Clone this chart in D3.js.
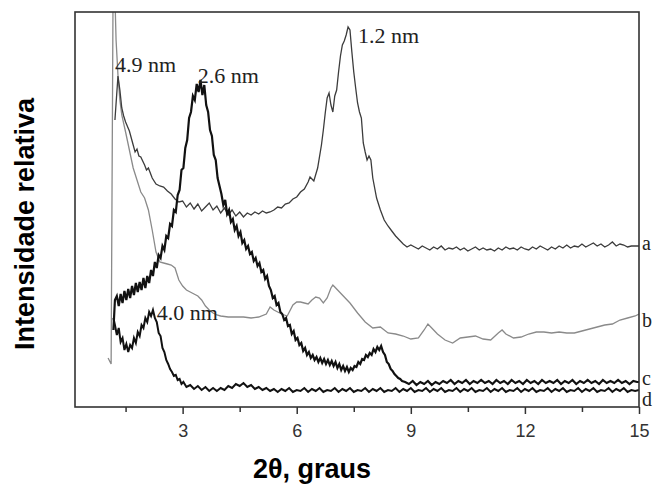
<!DOCTYPE html>
<html lang="en">
  <head>
    <meta charset="UTF-8" />
    <title>XRD patterns</title>
    <style>
      body { margin: 0; background: #fff; }
      svg { display: block; }
    </style>
  </head>
  <body>
    <div id="chart"></div>

    <script src="https://cdn.jsdelivr.net/npm/d3@7/dist/d3.min.js"></script>
    <script>
    // 2theta (graus) vs relative intensity
    var seriesA = [[1.22,287],[1.3,331],[1.35,317],[1.4,299],[1.45,291],[1.5,285],[1.6,276],[1.7,262],[1.75,255],[1.8,258],[1.85,251],[1.9,250],
      [2.0,242],[2.05,237],[2.1,239],[2.2,229],[2.3,223],[2.4,221],[2.5,220],[2.6,216],[2.7,213],[2.8,208],[2.9,205],[3.0,206],[3.1,200],[3.2,204],
      [3.3,198],[3.4,203],[3.5,196],[3.6,200],[3.7,204],[3.8,197],[3.9,201],[4.0,194],[4.1,199],[4.2,192],[4.3,197],[4.4,191],[4.5,195],[4.6,190],
      [4.7,194],[4.8,192],[4.9,195],[5.0,193],[5.1,196],[5.2,194],[5.3,195],[5.4,197],[5.5,200],[5.6,199],[5.7,203],[5.8,204],[5.9,208],[6.0,210],
      [6.1,215],[6.2,218],[6.3,225],[6.35,230],[6.45,226],[6.55,239],[6.65,262],[6.7,277],[6.75,294],[6.8,309],[6.85,314],[6.9,302],[6.95,295],
      [7.0,311],[7.05,317],[7.1,335],[7.15,351],[7.2,362],[7.25,366],[7.3,372],[7.35,380],[7.4,377],[7.45,355],[7.5,335],[7.55,319],[7.6,304],
      [7.65,295],[7.7,289],[7.75,264],[7.8,255],[7.85,247],[7.9,251],[7.95,247],[8.0,229],[8.1,209],[8.2,197],[8.3,187],[8.4,181],[8.5,176],
      [8.6,171],[8.7,167],[8.8,163],[8.9,160],[9.0,162],[9.1,160],[9.2,158],[9.3,161],[9.4,159],[9.5,157],[9.6,160],[9.7,158],[9.8,161],[9.9,157],
      [10.0,159],[10.1,158],[10.2,160],[10.3,157],[10.4,159],[10.5,156],[10.6,158],[10.7,160],[10.8,157],[10.9,159],[11.0,157],[11.1,158],
      [11.2,156],[11.3,159],[11.4,157],[11.5,160],[11.6,158],[11.7,159],[11.8,157],[11.9,160],[12.0,158],[12.1,157],[12.2,160],[12.3,158],
      [12.4,161],[12.5,159],[12.6,157],[12.7,160],[12.8,158],[12.9,161],[13.0,159],[13.1,162],[13.2,159],[13.3,161],[13.4,160],[13.5,163],
      [13.6,160],[13.7,162],[13.8,164],[13.9,161],[14.0,163],[14.1,160],[14.2,162],[14.3,165],[14.4,161],[14.5,163],[14.6,162],[14.7,160],
      [14.8,161],[14.9,161],[15.0,161]];

    var seriesB = [[1.04,49],[1.12,43],[1.17,410],[1.22,410],[1.25,367],[1.3,332],[1.35,307],[1.4,292],[1.5,275],[1.6,257],[1.7,239],[1.8,227],
      [1.9,215],[2.0,209],[2.1,197],[2.2,177],[2.3,155],[2.4,145],[2.5,144],[2.6,143],[2.7,142],[2.8,139],[2.9,127],[3.0,121],[3.1,117],[3.2,115],
      [3.3,113],[3.4,111],[3.5,107],[3.6,101],[3.7,97],[3.8,94],[3.9,92],[4.0,91],[4.2,90],[4.4,90],[4.6,90],[4.8,89],[5.0,90],[5.2,93],[5.3,100],
      [5.4,97],[5.6,93],[5.75,91],[5.9,102],[6.0,105],[6.1,105],[6.2,104],[6.3,103],[6.4,107],[6.5,110],[6.6,109],[6.7,104],[6.8,109],[6.9,119],
      [6.95,122],[7.0,120],[7.1,116],[7.2,112],[7.4,104],[7.6,94],[7.8,85],[8.0,79],[8.2,80],[8.4,74],[8.6,73],[8.8,71],[9.0,68],[9.2,69],
      [9.35,77],[9.45,83],[9.55,79],[9.7,73],[9.9,67],[10.1,64],[10.3,69],[10.5,70],[10.7,71],[10.9,68],[11.1,67],[11.3,74],[11.4,77],[11.5,73],
      [11.7,69],[11.9,70],[12.1,73],[12.3,75],[12.5,75],[12.7,74],[12.9,75],[13.1,74],[13.3,74],[13.5,76],[13.7,78],[13.9,80],[14.1,82],[14.3,83],
      [14.5,87],[14.7,89],[14.9,91],[15.0,93]];

    var seriesC = [[1.18,77],[1.22,107],[1.27,111],[1.32,101],[1.37,113],[1.42,104],[1.47,116],[1.52,107],[1.57,118],[1.62,109],[1.67,121],
      [1.72,112],[1.77,124],[1.82,115],[1.87,125],[1.92,117],[1.97,129],[2.02,119],[2.07,131],[2.12,124],[2.17,137],[2.22,131],[2.27,145],
      [2.32,139],[2.37,152],[2.42,149],[2.47,161],[2.52,157],[2.57,171],[2.62,169],[2.67,183],[2.72,181],[2.77,197],[2.82,195],[2.87,212],
      [2.92,217],[2.97,237],[3.02,239],[3.07,259],[3.12,267],[3.17,289],[3.22,295],[3.27,311],[3.32,307],[3.37,323],[3.42,315],[3.47,327],
      [3.52,312],[3.57,322],[3.62,302],[3.67,295],[3.72,277],[3.77,271],[3.82,252],[3.87,247],[3.92,229],[3.97,221],[4.02,213],[4.07,202],
      [4.12,207],[4.17,193],[4.22,197],[4.27,185],[4.32,188],[4.37,177],[4.42,181],[4.47,171],[4.52,175],[4.57,164],[4.62,167],[4.67,158],
      [4.72,161],[4.77,153],[4.82,155],[4.87,146],[4.92,149],[4.97,141],[5.02,144],[5.07,135],[5.12,137],[5.17,128],[5.22,131],[5.27,121],
      [5.32,117],[5.37,109],[5.42,111],[5.47,102],[5.52,104],[5.57,95],[5.62,93],[5.67,87],[5.72,89],[5.77,81],[5.82,82],[5.87,73],[5.92,76],
      [5.97,67],[6.02,69],[6.07,62],[6.12,64],[6.17,56],[6.22,59],[6.27,52],[6.32,55],[6.37,49],[6.42,52],[6.47,47],[6.52,50],[6.57,45],
      [6.62,49],[6.67,44],[6.72,48],[6.77,43],[6.82,47],[6.87,42],[6.92,46],[6.97,41],[7.02,45],[7.07,39],[7.12,43],[7.17,37],[7.22,41],
      [7.27,36],[7.32,40],[7.37,35],[7.42,39],[7.47,37],[7.52,41],[7.57,40],[7.62,45],[7.67,43],[7.72,48],[7.77,47],[7.82,52],[7.87,50],
      [7.92,54],[7.97,52],[8.02,58],[8.07,55],[8.12,60],[8.17,57],[8.22,61],[8.27,55],[8.32,52],[8.37,45],[8.42,43],[8.47,38],[8.52,36],
      [8.57,33],[8.62,31],[8.67,29],[8.72,28],[8.77,26],[8.85,25],[8.95,23],[9.05,26],[9.15,22],[9.25,25],[9.35,23],[9.45,26],[9.55,22],
      [9.65,25],[9.75,23],[9.85,26],[9.95,24],[10.05,27],[10.15,23],[10.25,26],[10.35,24],[10.45,27],[10.55,23],[10.65,26],[10.75,24],
      [10.85,27],[10.95,24],[11.05,26],[11.15,23],[11.25,27],[11.35,24],[11.45,26],[11.55,23],[11.65,27],[11.75,24],[11.85,26],[11.95,23],
      [12.05,27],[12.15,24],[12.25,26],[12.35,23],[12.45,27],[12.55,24],[12.65,26],[12.75,24],[12.85,27],[12.95,23],[13.05,26],[13.15,24],
      [13.25,27],[13.35,23],[13.45,26],[13.55,24],[13.65,27],[13.75,24],[13.85,26],[13.95,23],[14.05,27],[14.15,24],[14.25,26],[14.35,24],
      [14.45,27],[14.55,24],[14.65,26],[14.75,23],[14.85,26],[14.95,25],[15.0,25]];

    var seriesD = [[1.18,89],[1.22,82],[1.27,72],[1.32,79],[1.37,65],[1.42,69],[1.47,57],[1.52,63],[1.57,55],[1.62,62],[1.67,59],[1.72,69],
      [1.77,64],[1.82,75],[1.87,71],[1.92,82],[1.97,79],[2.02,89],[2.07,85],[2.12,95],[2.17,91],[2.22,97],[2.27,89],[2.32,85],[2.37,74],
      [2.42,71],[2.47,59],[2.52,55],[2.57,47],[2.62,43],[2.67,38],[2.72,35],[2.77,31],[2.82,32],[2.87,27],[2.92,28],[2.97,23],[3.02,25],
      [3.1,20],[3.2,22],[3.3,18],[3.4,21],[3.5,17],[3.6,20],[3.7,16],[3.8,19],[3.9,16],[4.0,19],[4.1,17],[4.2,21],[4.3,19],[4.4,23],[4.5,21],
      [4.6,24],[4.7,20],[4.8,22],[4.9,18],[5.0,20],[5.1,17],[5.2,19],[5.3,16],[5.4,18],[5.5,15],[5.6,18],[5.7,16],[5.8,19],[5.9,15],[6.0,17],
      [6.1,16],[6.2,19],[6.3,15],[6.4,18],[6.5,16],[6.6,19],[6.7,15],[6.8,17],[6.9,16],[7.0,19],[7.1,15],[7.2,18],[7.3,16],[7.4,19],[7.5,15],
      [7.6,17],[7.7,16],[7.8,19],[7.9,15],[8.0,18],[8.1,16],[8.2,19],[8.3,15],[8.4,17],[8.5,16],[8.6,19],[8.7,15],[8.8,18],[8.9,16],[9.0,19],
      [9.1,15],[9.2,17],[9.3,16],[9.4,19],[9.5,15],[9.6,18],[9.7,16],[9.8,19],[9.9,15],[10.0,17],[10.1,16],[10.2,19],[10.3,15],[10.4,18],
      [10.5,16],[10.6,19],[10.7,15],[10.8,17],[10.9,16],[11.0,19],[11.1,15],[11.2,18],[11.3,16],[11.4,19],[11.5,15],[11.6,17],[11.7,16],
      [11.8,19],[11.9,15],[12.0,18],[12.1,16],[12.2,19],[12.3,15],[12.4,17],[12.5,16],[12.6,19],[12.7,15],[12.8,18],[12.9,16],[13.0,19],
      [13.1,15],[13.2,17],[13.3,16],[13.4,19],[13.5,15],[13.6,18],[13.7,16],[13.8,19],[13.9,15],[14.0,17],[14.1,16],[14.2,19],[14.3,15],
      [14.4,18],[14.5,16],[14.6,19],[14.7,15],[14.8,17],[14.9,16],[15.0,17]];

    var majorTicks = [3, 6, 9, 12, 15];
    var minorTicks = [1.5, 4.5, 7.5, 10.5, 13.5];
    var curveNames = ["a", "b", "c", "d"];
    var curveEnds = [157, 80, 22, 1];
    var peakNames = ["4.9 nm", "2.6 nm", "1.2 nm", "4.0 nm"];
    var peakAt = [[1.22, 335], [3.40, 324], [7.61, 364], [2.32, 87]];

    var width = 654, height = 484;

    var svg = d3.select("#chart").append("svg")
      .attr("width", width)
      .attr("height", height);

    var x = d3.scaleLinear().domain([0.17, 15]).range([75, 639]);
    var y = d3.scaleLinear().domain([0, 395]).range([407, 12]);

    svg.append("clipPath").attr("id", "plotclip")
      .append("rect")
      .attr("x", 75).attr("y", 12)
      .attr("width", 564).attr("height", 395);

    var line = d3.line()
      .x(function(d){ return x(d[0]); })
      .y(function(d){ return y(d[1]); });

    var curves = svg.append("g").attr("clip-path", "url(#plotclip)");
    // b first (light grey), then a, d, c on top
    curves.append("path").datum(seriesB).attr("d", line)
      .attr("fill", "none").attr("stroke", "#8a8a8a").attr("stroke-width", 1.3);
    curves.append("path").datum(seriesA).attr("d", line)
      .attr("fill", "none").attr("stroke", "#3c3c3c").attr("stroke-width", 1.3);
    curves.append("path").datum(seriesD).attr("d", line)
      .attr("fill", "none").attr("stroke", "#111").attr("stroke-width", 2);
    curves.append("path").datum(seriesC).attr("d", line)
      .attr("fill", "none").attr("stroke", "#111").attr("stroke-width", 2.2);

    // frame
    svg.append("rect")
      .attr("x", 75).attr("y", 12)
      .attr("width", 564).attr("height", 395)
      .attr("fill", "none")
      .attr("stroke", "#333")
      .attr("stroke-width", 1.6);

    var xAxis = svg.append("g")
      .attr("transform", "translate(0,407)")
      .call(d3.axisBottom(x).tickValues(majorTicks).tickSize(7).tickPadding(10));
    xAxis.select(".domain").remove();
    xAxis.selectAll("line").attr("stroke", "#333").attr("stroke-width", 1.5);
    xAxis.selectAll("text")
      .attr("fill", "#333")
      .style("font-family", "'Liberation Sans', Arial, sans-serif")
      .style("font-size", "18px");

    var xMinor = svg.append("g")
      .attr("transform", "translate(0,407)")
      .call(d3.axisBottom(x).tickValues(minorTicks).tickSize(5).tickFormat(""));
    xMinor.select(".domain").remove();
    xMinor.selectAll("line").attr("stroke", "#333").attr("stroke-width", 1.5);

    // peak annotations
    svg.selectAll("text.peak")
      .data(peakNames)
      .enter()
      .append("text")
      .attr("class", "peak")
      .attr("x", function(d, i){ return x(peakAt[i][0]); })
      .attr("y", function(d, i){ return y(peakAt[i][1]); })
      .style("font-family", "'Liberation Serif', 'Times New Roman', serif")
      .style("font-size", "22px")
      .attr("fill", "#222")
      .text(function(d){ return d; });

    // curve letters at the right edge
    svg.selectAll("text.curve")
      .data(curveNames)
      .enter()
      .append("text")
      .attr("class", "curve")
      .attr("x", 642)
      .attr("y", function(d, i){ return y(curveEnds[i]); })
      .style("font-family", "'Liberation Serif', 'Times New Roman', serif")
      .style("font-size", "20px")
      .attr("fill", "#222")
      .text(function(d){ return d; });

    svg.append("text")
      .attr("x", 312)
      .attr("y", 478)
      .attr("text-anchor", "middle")
      .style("font-family", "'Liberation Sans', Arial, sans-serif")
      .style("font-weight", "bold")
      .style("font-size", "27px")
      .text("2θ, graus");

    svg.append("text")
      .attr("transform", "translate(34,224) rotate(-90)")
      .attr("text-anchor", "middle")
      .style("font-family", "'Liberation Sans', Arial, sans-serif")
      .style("font-weight", "bold")
      .style("font-size", "27px")
      .text("Intensidade relativa");
    </script>
  </body>
</html>
